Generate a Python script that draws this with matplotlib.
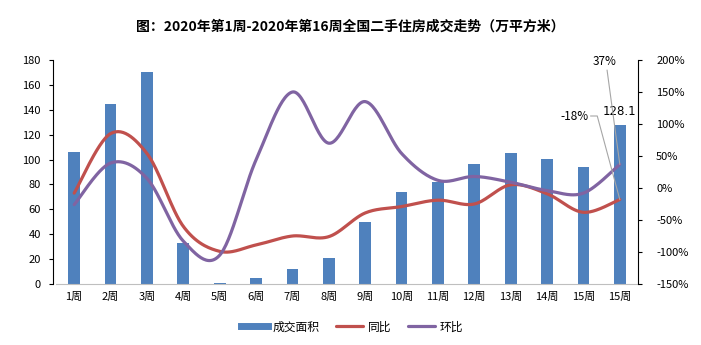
import numpy as np
import matplotlib
matplotlib.use("Agg")
import matplotlib.pyplot as plt
from matplotlib.lines import Line2D

plt.rcParams['font.family'] = ['Noto Sans CJK SC', 'DejaVu Sans']
plt.rcParams['axes.unicode_minus'] = False

weeks = ["1周", "2周", "3周", "4周", "5周", "6周", "7周", "8周",
         "9周", "10周", "11周", "12周", "13周", "14周", "15周", "15周"]
area = [106, 144.5, 170, 33, 1, 5, 12, 21, 50, 74, 82, 96.5, 105.5, 100.5, 94, 128.1]
yoy = [-8, 85, 54, -60, -99, -89, -75, -76, -39, -29, -19, -25, 5, -9, -38, -18]
mom = [-26, 39, 15, -83, -105, 44, 150, 70, 135, 54, 12, 18, 9, -4, -8, 37]

BLUE = "#4F81BD"
RED = "#C0504D"
PURPLE = "#8064A2"
LEADER = "#A6A6A6"


def smooth(xs, ys, n=30):
    """Catmull-Rom style Bezier smoothing (same style as office chart smoothing)."""
    xs = np.asarray(xs, float)
    ys = np.asarray(ys, float)
    px = np.concatenate([[xs[0]], xs, [xs[-1]]])
    py = np.concatenate([[ys[0]], ys, [ys[-1]]])
    ox, oy = [], []
    t = np.linspace(0, 1, n)
    for i in range(1, len(px) - 2):
        p0 = np.array([px[i], py[i]])
        p3 = np.array([px[i + 1], py[i + 1]])
        c1 = p0 + (np.array([px[i + 1], py[i + 1]]) - np.array([px[i - 1], py[i - 1]])) / 6
        c2 = p3 - (np.array([px[i + 2], py[i + 2]]) - np.array([px[i], py[i]])) / 6
        b = ((1 - t) ** 3)[:, None] * p0 + (3 * (1 - t) ** 2 * t)[:, None] * c1 \
            + (3 * (1 - t) * t ** 2)[:, None] * c2 + (t ** 3)[:, None] * p3
        ox.extend(b[:, 0])
        oy.extend(b[:, 1])
    return np.array(ox), np.array(oy)


fig = plt.figure(figsize=(7.01, 3.45), dpi=100)
ax = fig.add_axes([56 / 701, 1 - 284 / 345, (638 - 56) / 701, (284 - 60) / 345])
ax2 = ax.twinx()

x = np.arange(len(weeks))
ax.bar(x, area, width=0.32, color=BLUE, zorder=2, label="成交面积")
ax.set_xlim(-0.5, len(weeks) - 0.5)
ax.set_ylim(0, 180)
ax.set_yticks(np.arange(0, 181, 20))
ax.set_xticks(x)
ax.set_xticklabels(weeks)

sx, sy = smooth(x, yoy)
ax2.plot(sx, sy, color=RED, lw=2.3, solid_capstyle='round', label="同比", zorder=3)
sx, sy = smooth(x, mom)
ax2.plot(sx, sy, color=PURPLE, lw=2.3, solid_capstyle='round', label="环比", zorder=3)
ax2.set_ylim(-150, 200)
ax2.set_yticks(np.arange(-150, 201, 50))
ax2.set_yticklabels([f"{v}%" for v in range(-150, 201, 50)])

for a in (ax, ax2):
    a.tick_params(labelsize=8, length=3, width=0.8, colors="black", pad=6)
    for s in a.spines.values():
        s.set_visible(False)
ax.spines['left'].set_visible(True)
ax.spines['left'].set_color("black")
ax.spines['left'].set_position(('outward', 2))
ax2.spines['right'].set_visible(True)
ax2.spines['right'].set_color("black")
ax.spines['bottom'].set_visible(True)
ax.spines['bottom'].set_color("#BFBFBF")
ax.tick_params(axis='x', length=0, pad=6)
ax2.tick_params(axis='y', pad=10)

# value labels on the latest week
last = len(weeks) - 1
ax.text(last, area[last] + 5, f"{area[last]}", ha='center', va='bottom', fontsize=8.5,
        family=['DejaVu Sans'], zorder=5)

# month-on-month label with its leader line
ax2.text(last - 0.42, 197, f"{mom[last]}%", ha='center', va='center', fontsize=8.5, zorder=5)
ax2.plot([last - 0.35, last], [184, mom[last]], color=LEADER, lw=0.8, zorder=4)

# year-on-year label with an elbow leader line
ax2.text(last - 0.85, 112.5, f"{yoy[last]}%", ha='right', va='center', fontsize=8.5, zorder=5)
ax2.plot([last - 0.8, last - 0.62, last], [112.5, 112.5, yoy[last]],
         color=LEADER, lw=0.8, zorder=4)

fig.text(0.5, 1 - 27 / 345, "图：2020年第1周-2020年第16周全国二手住房成交走势（万平方米）",
         ha='center', va='center', fontsize=10, fontweight='bold')

h2, l2 = ax2.get_legend_handles_labels()
handles = [Line2D([0], [0], color=BLUE, lw=5), h2[0], h2[1]]
fig.legend(handles, ["成交面积"] + l2, loc='center', bbox_to_anchor=(352 / 701, 1 - 327 / 345),
           ncol=3, frameon=False, fontsize=8.5, handlelength=2.3, columnspacing=1.4,
           handletextpad=0.4)

fig.savefig("out.png", dpi=100, facecolor="white")
